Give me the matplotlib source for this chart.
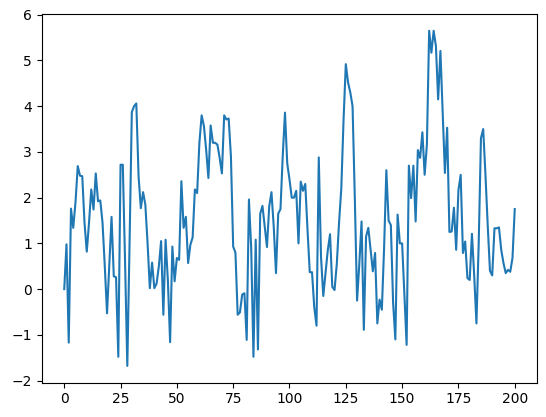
import matplotlib
matplotlib.use("Agg")
import matplotlib.pyplot as plt
import numpy as np

# values, index 0..200
values = [
    0.00, 0.98, -1.17, 1.76, 1.34, 1.90, 2.69, 2.48, 2.47, 1.45,
    0.82, 1.45, 2.18, 1.74, 2.53, 1.92, 1.94, 1.45, 0.50, -0.53,
    0.50, 1.58, 0.28, 0.26, -1.48, 2.72, 2.72, 0.60, -1.68, 1.00,
    3.87, 4.00, 4.06, 2.47, 1.77, 2.12, 1.85, 1.00, 0.02, 0.58,
    0.02, 0.12, 0.50, 1.05, -0.56, 1.08, 0.20, -1.16, 0.93, 0.17,
    0.68, 0.64, 2.36, 1.34, 1.58, 0.57, 0.97, 1.13, 2.18, 2.10,
    3.20, 3.80, 3.57, 3.05, 2.43, 3.58, 3.20, 3.20, 3.16, 2.87,
    2.53, 3.80, 3.71, 3.73, 2.90, 0.93, 0.80, -0.56, -0.51, -0.12,
    -0.09, -1.11, 1.96, 0.90, -1.48, 1.08, -1.32, 1.65, 1.82, 1.37,
    0.92, 1.81, 2.12, 1.37, 0.35, 1.65, 1.75, 2.91, 3.86, 2.75,
    2.40, 2.00, 2.00, 2.15, 1.00, 2.35, 2.15, 2.30, 1.30, 0.37,
    0.37, -0.40, -0.80, 2.88, 0.70, -0.15, 0.35, 0.85, 1.20, 0.05,
    -0.02, 0.55, 1.45, 2.20, 3.70, 4.92, 4.52, 4.30, 4.00, 2.00,
    -0.25, 0.55, 1.48, -0.89, 1.15, 1.34, 0.86, 0.39, 0.79, -0.75,
    -0.23, -0.45, 0.90, 2.60, 1.50, 1.40, -0.30, -1.10, 1.63, 1.00,
    1.00, -0.10, -1.22, 2.70, 1.99, 2.70, 1.48, 3.04, 2.87, 3.43,
    2.50, 3.16, 5.65, 5.17, 5.65, 5.32, 4.15, 5.21, 3.90, 2.54,
    3.53, 1.25, 1.26, 1.78, 0.86, 2.16, 2.50, 0.79, 1.04, 0.24,
    0.20, 1.21, 0.30, -0.75, 1.00, 3.30, 3.50, 2.50, 1.40, 0.40,
    0.30, 1.33, 1.33, 1.35, 0.86, 0.57, 0.35, 0.42, 0.38, 0.68,
    1.75,
]
steps = np.arange(len(values))

fig = plt.figure(figsize=(5.46, 4.17), dpi=100)
ax = fig.add_axes([0.0764, 0.0823, 0.9076, 0.8841])
ax.plot(steps, values)

fig.savefig("out.png", dpi=100)
